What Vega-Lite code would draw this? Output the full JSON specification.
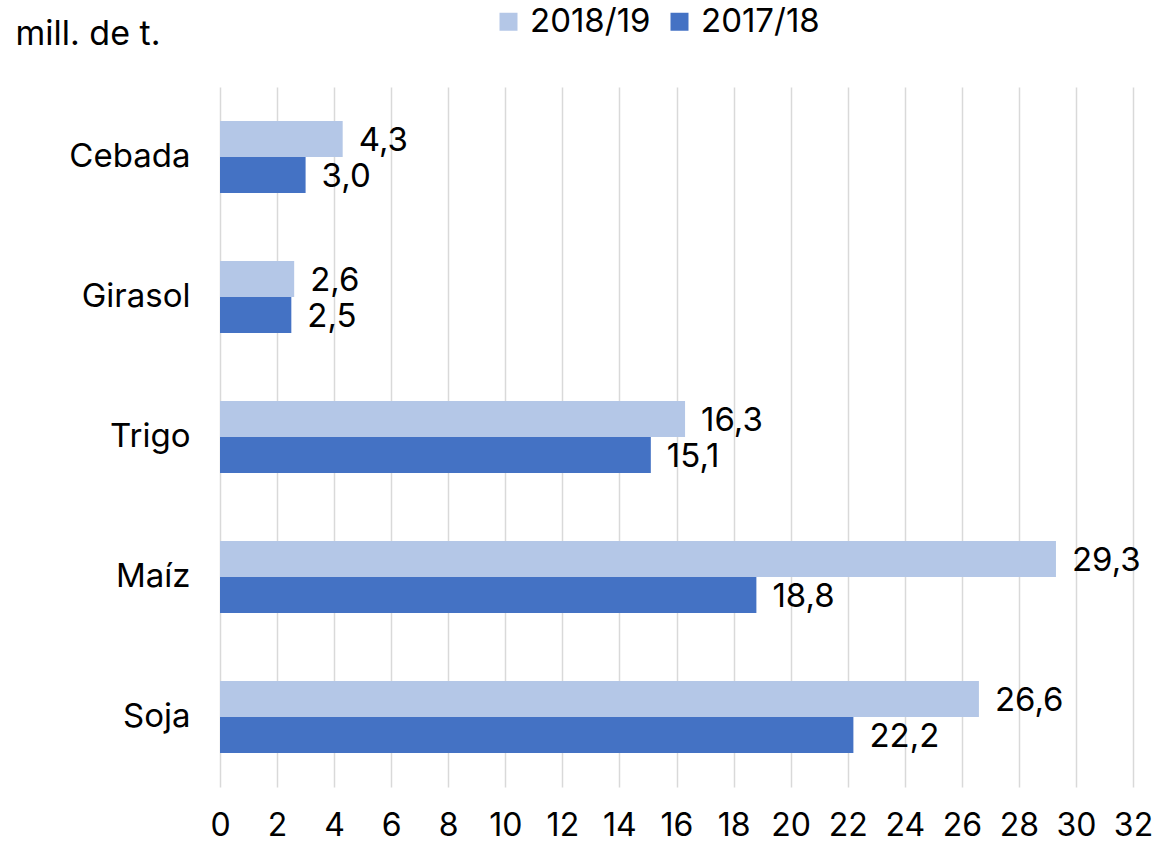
{
  "$schema": "https://vega.github.io/schema/vega-lite/v6.json",
  "width": 913,
  "height": 700,
  "autosize": {"type": "none"},
  "padding": {"left": 220, "top": 87, "right": 27, "bottom": 57},
  "background": "white",
  "config": {
    "locale": {"number": {"decimal": ",", "thousands": ".", "grouping": [3], "currency": ["", " €"]}},
    "view": {"stroke": null},
    "font": "Inter"
  },
  "data": {
    "values": [
      {"cultivo": "Cebada", "campaña": "2018/19", "valor": 4.3},
      {"cultivo": "Cebada", "campaña": "2017/18", "valor": 3.0},
      {"cultivo": "Girasol", "campaña": "2018/19", "valor": 2.6},
      {"cultivo": "Girasol", "campaña": "2017/18", "valor": 2.5},
      {"cultivo": "Trigo", "campaña": "2018/19", "valor": 16.3},
      {"cultivo": "Trigo", "campaña": "2017/18", "valor": 15.1},
      {"cultivo": "Maíz", "campaña": "2018/19", "valor": 29.3},
      {"cultivo": "Maíz", "campaña": "2017/18", "valor": 18.8},
      {"cultivo": "Soja", "campaña": "2018/19", "valor": 26.6},
      {"cultivo": "Soja", "campaña": "2017/18", "valor": 22.2}
    ]
  },
  "encoding": {
    "y": {
      "field": "cultivo",
      "type": "nominal",
      "sort": ["Cebada", "Girasol", "Trigo", "Maíz", "Soja"],
      "scale": {"paddingInner": 0.486, "paddingOuter": 0.243},
      "axis": {
        "domain": false,
        "ticks": false,
        "grid": false,
        "labelFontSize": 33,
        "labelPadding": 30,
        "labelColor": "#000000",
        "title": "mill. de t.",
        "titleAngle": 0,
        "titleX": -205,
        "titleY": -43,
        "titleAlign": "left",
        "titleBaseline": "alphabetic",
        "titleFontSize": 34,
        "titleFontWeight": "normal",
        "titleColor": "#000000"
      }
    },
    "yOffset": {"field": "campaña", "type": "nominal", "sort": ["2018/19", "2017/18"]},
    "x": {
      "field": "valor",
      "type": "quantitative",
      "scale": {"domain": [0, 32], "nice": false},
      "axis": {
        "values": [0, 2, 4, 6, 8, 10, 12, 14, 16, 18, 20, 22, 24, 26, 28, 30, 32],
        "format": "d",
        "grid": true,
        "gridColor": "#d9d9d9",
        "gridWidth": 1.5,
        "domain": false,
        "ticks": false,
        "labelFlush": false,
        "labelOverlap": false,
        "labelFontSize": 32,
        "labelPadding": 23,
        "labelColor": "#000000",
        "title": null
      }
    }
  },
  "layer": [
    {
      "mark": {"type": "bar"},
      "encoding": {
        "color": {
          "field": "campaña",
          "type": "nominal",
          "scale": {"domain": ["2018/19", "2017/18"], "range": ["#B4C7E7", "#4472C4"]},
          "legend": {
            "orient": "none",
            "legendX": 272,
            "legendY": -82,
            "padding": 0,
            "direction": "horizontal",
            "title": null,
            "symbolType": "square",
            "symbolSize": 324,
            "symbolOpacity": 1,
            "symbolStrokeWidth": 0,
            "labelFontSize": 33,
            "labelColor": "#000000",
            "labelOffset": 5,
            "columnPadding": 12
          }
        }
      }
    },
    {
      "mark": {"type": "text", "align": "left", "baseline": "middle", "dx": 16, "dy": 2, "fontSize": 33, "color": "#000000"},
      "encoding": {"text": {"field": "valor", "type": "quantitative", "format": ".1f"}}
    }
  ]
}
